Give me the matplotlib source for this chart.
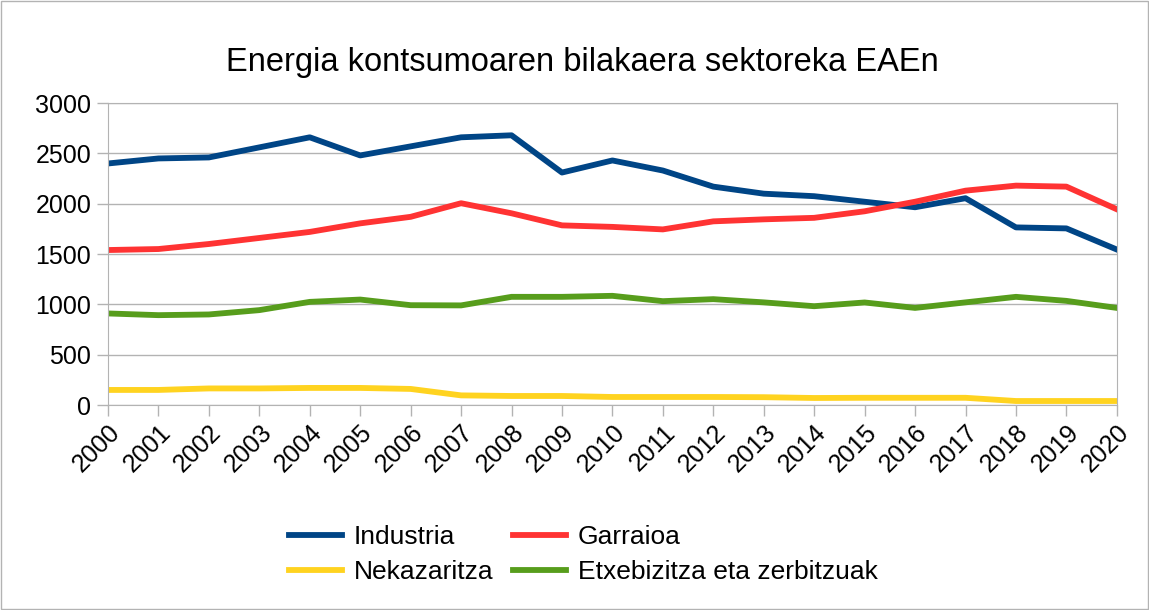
import matplotlib.pyplot as plt
from matplotlib.patches import Rectangle

plt.rcParams['font.family'] = ['Liberation Sans', 'DejaVu Sans']

urteak = list(range(2000, 2021))

industria = [2400, 2450, 2460, 2560, 2660, 2480, 2570, 2660, 2680, 2310, 2430,
             2330, 2170, 2100, 2075, 2020, 1965, 2055, 1765, 1755, 1545]
garraioa = [1540, 1550, 1600, 1660, 1720, 1805, 1870, 2005, 1905, 1785, 1770,
            1745, 1825, 1845, 1860, 1925, 2020, 2130, 2180, 2170, 1945]
nekazaritza = [150, 150, 165, 165, 170, 170, 160, 96, 90, 90, 80,
               80, 80, 78, 70, 72, 72, 72, 40, 40, 40]
etxebizitza = [910, 893, 900, 943, 1025, 1048, 992, 990, 1075, 1075, 1085,
               1032, 1052, 1020, 982, 1019, 965, 1020, 1075, 1035, 965]

fig = plt.figure(figsize=(11.49, 6.10), dpi=100)
ax = fig.add_axes([0.094, 0.336, 0.878, 0.495])

lw = 4.2
ax.plot(urteak, industria, color='#004586', lw=lw, label='Industria')
ax.plot(urteak, garraioa, color='#ff3333', lw=lw, label='Garraioa')
ax.plot(urteak, nekazaritza, color='#ffd320', lw=lw, label='Nekazaritza')
ax.plot(urteak, etxebizitza, color='#579d1c', lw=lw, label='Etxebizitza eta zerbitzuak')

ax.set_xlim(2000, 2020)
ax.set_ylim(0, 3000)
ax.set_yticks(range(0, 3001, 500))
ax.set_xticks(urteak)
ax.set_xticklabels([str(u) for u in urteak], rotation=45, ha='right',
                   rotation_mode='anchor')
ax.tick_params(axis='both', labelsize=18, color='#b3b3b3', length=8, width=1)
ax.tick_params(axis='y', pad=4)
ax.tick_params(axis='x', pad=3)
ax.grid(axis='y', color='#b3b3b3', lw=1)
for s in ax.spines.values():
    s.set_color('#b3b3b3')
ax.set_axisbelow(True)

fig.suptitle('Energia kontsumoaren bilakaera sektoreka EAEn', fontsize=23.5,
             x=0.507, y=0.898, va='center')

# legend order: row-wise like the original
h, l = ax.get_legend_handles_labels()
order = [0, 2, 1, 3]
fig.legend([h[i] for i in order], [l[i] for i in order], ncol=2,
           loc='center', bbox_to_anchor=(0.508, 0.091), frameon=False,
           fontsize=19, handlelength=2.0, columnspacing=0.75,
           labelspacing=0.4, handletextpad=0.45)

fig.patches.append(Rectangle((0.001, 0.001), 0.998, 0.998, transform=fig.transFigure,
                             fill=False, edgecolor='#b3b3b3', lw=1))

fig.savefig('out.png', dpi=100)
